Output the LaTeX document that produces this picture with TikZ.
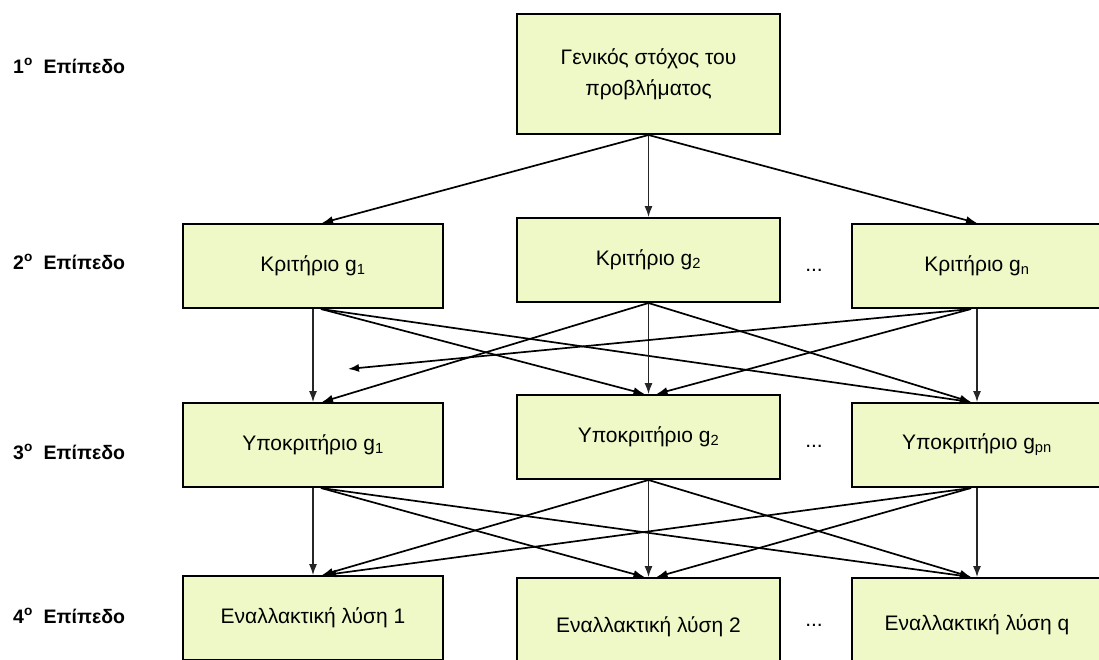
\documentclass[tikz,border=0pt]{standalone}
\usepackage{fontspec}
\setmainfont{Liberation Sans}
\usetikzlibrary{arrows.meta}
\definecolor{boxfill}{RGB}{239,249,199}
\begin{document}
\begin{tikzpicture}[x=1pt,y=-1pt,
  box/.style={draw=black, line width=2pt, fill=boxfill, inner sep=0pt, font=\fontsize{21}{31}\selectfont, align=center},
  lvl/.style={anchor=west, font=\bfseries\fontsize{19.5}{22}\selectfont, inner sep=0pt},
  dots/.style={anchor=base, font=\fontsize{21}{25}\selectfont, inner sep=0pt},
  arr/.style={-{Latex[length=11pt,width=8pt]}, line width=1.7pt},
  varr/.style={-{Latex[length=11pt,width=8pt]}, line width=1.2pt, black!85}
]
\useasboundingbox (0,0) rectangle (1099,659);
\clip (0,0) rectangle (1099,659);
\fill[white] (0,0) rectangle (1099,659);

% level labels
\node[lvl] (l1) at (13,66) {1\textsuperscript{o}\ \ Επίπεδο};
\node[lvl] (l2) at (13,262) {2\textsuperscript{o}\ \ Επίπεδο};
\node[lvl] (l3) at (13,452) {3\textsuperscript{o}\ \ Επίπεδο};
\node[lvl] (l4) at (13,616) {4\textsuperscript{o}\ \ Επίπεδο};

% boxes
\node[box, minimum width=263pt, minimum height=120pt] (goal) at (648.5,74) {Γενικός στόχος του\\προβλήματος};

\node[box, minimum width=260pt, minimum height=84pt] (g1) at (313,266) {Κριτήριο g\textsubscript{1}};
\node[box, minimum width=263pt, minimum height=84pt] (g2) at (648.5,260) {Κριτήριο g\textsubscript{2}};
\node[box, minimum width=250pt, minimum height=84pt] (g3) at (977,266) {Κριτήριο g\textsubscript{n}};

\node[box, minimum width=260pt, minimum height=84pt] (s1) at (313,445) {Υποκριτήριο g\textsubscript{1}};
\node[box, minimum width=263pt, minimum height=84pt] (s2) at (648.5,437) {Υποκριτήριο g\textsubscript{2}};
\node[box, minimum width=250pt, minimum height=84pt] (s3) at (977,445) {Υποκριτήριο g\textsubscript{pn}};

\node[box, minimum width=260pt, minimum height=84pt] (e1) at (313,618) {Εναλλακτική λύση 1};
\node[box, minimum width=263pt, minimum height=98pt] (e2) at (648.5,627) {Εναλλακτική λύση 2};
\node[box, minimum width=250pt, minimum height=94pt] (e3) at (977,625) {Εναλλακτική λύση q};

% dots
\node[dots] (d2) at (814,271) {...};
\node[dots] (d3) at (814,447) {...};
\node[dots] (d4) at (814,626) {...};

\coordinate (mid) at (348,369);

% level 1 -> 2
\draw[arr] (goal.south) -- ([xshift=9pt]g1.north);
\draw[varr] (goal.south) -- (g2.north);
\draw[arr] (goal.south) -- (g3.north);

% level 2 -> 3
\draw[varr] (g1.south) -- (s1.north);
\draw[arr] ([xshift=8pt]g1.south) -- ([xshift=-4pt]s2.north);
\draw[arr] ([xshift=8pt]g1.south) -- ([xshift=-6pt]s3.north);
\draw[arr] (g2.south) -- ([xshift=9pt]s1.north);
\draw[varr] (g2.south) -- (s2.north);
\draw[arr] (g2.south) -- ([xshift=-6pt]s3.north);
\draw[arr] ([xshift=-6pt]g3.south) -- (mid);
\draw[arr] ([xshift=-6pt]g3.south) -- ([xshift=8pt]s2.north);
\draw[varr] (g3.south) -- (s3.north);

% level 3 -> 4
\draw[varr] (s1.south) -- (e1.north);
\draw[arr] ([xshift=8pt]s1.south) -- ([xshift=-4pt]e2.north);
\draw[arr] ([xshift=8pt]s1.south) -- ([xshift=-6pt]e3.north);
\draw[arr] (s2.south) -- ([xshift=9pt]e1.north);
\draw[varr] (s2.south) -- (e2.north);
\draw[arr] (s2.south) -- ([xshift=-6pt]e3.north);
\draw[arr] ([xshift=-6pt]s3.south) -- ([xshift=12pt]e1.north);
\draw[arr] ([xshift=-6pt]s3.south) -- ([xshift=8pt]e2.north);
\draw[varr] (s3.south) -- (e3.north);
\end{tikzpicture}
\end{document}
